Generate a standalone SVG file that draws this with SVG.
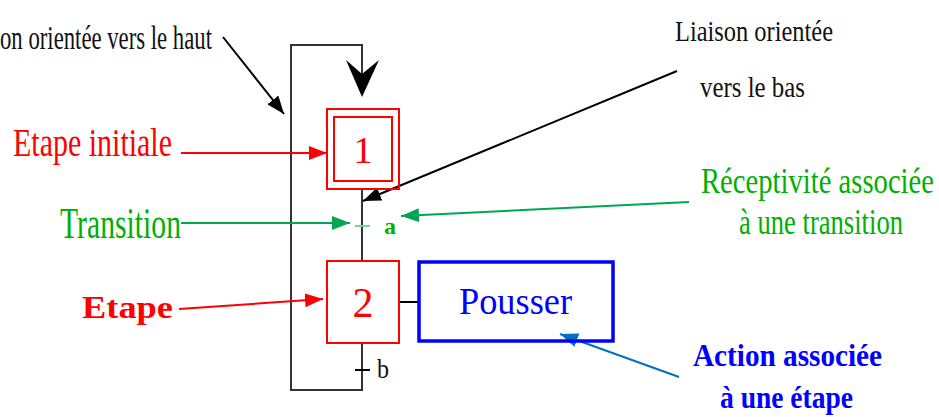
<svg xmlns="http://www.w3.org/2000/svg" width="939" height="417" viewBox="0 0 939 417" font-family="'Liberation Serif', 'DejaVu Serif', serif">
<style>
.blk{fill:#111}
.red{fill:#ff0000}
.grn{fill:#00b000}
.blu{fill:#0000ff}
.loop{fill:none;stroke:#333;stroke-width:2}
.ln{fill:none;stroke-width:2}
</style>
<defs>
<marker id="ak" markerUnits="userSpaceOnUse" markerWidth="18" markerHeight="14" refX="18" refY="7" orient="auto"><path d="M0,0 L18,7 L0,14 z" fill="#000"/></marker>
<marker id="ar" markerUnits="userSpaceOnUse" markerWidth="18" markerHeight="14" refX="18" refY="7" orient="auto"><path d="M0,0 L18,7 L0,14 z" fill="#ff0000"/></marker>
<marker id="ag" markerUnits="userSpaceOnUse" markerWidth="18" markerHeight="14" refX="18" refY="7" orient="auto"><path d="M0,0 L18,7 L0,14 z" fill="#00a651"/></marker>
<marker id="ab" markerUnits="userSpaceOnUse" markerWidth="18" markerHeight="14" refX="18" refY="7" orient="auto"><path d="M0,0 L18,7 L0,14 z" fill="#0070c0"/></marker>
</defs>

<g id="connectors">
  <path class="loop" d="M362,343 V390 H291 V45 H362 V76"/>
  <path d="M346,60 L362,74 L379,60 L362,97 Z" fill="#000"/>
  <line class="loop" x1="362" y1="189" x2="362" y2="261" stroke="#000"/>
  <line x1="355" y1="226" x2="370" y2="226" stroke="#66dd88" stroke-width="2"/>
  <line x1="355" y1="370" x2="370" y2="370" stroke="#000" stroke-width="2"/>
  <line x1="399" y1="302" x2="420" y2="302" stroke="#000" stroke-width="2"/>
  <line class="ln" stroke="#000" x1="223" y1="37" x2="284" y2="114" marker-end="url(#ak)"/>
  <line class="ln" stroke="#000" x1="677" y1="71" x2="363" y2="201" marker-end="url(#ak)"/>
  <line class="ln" stroke="#ff0000" x1="181" y1="153" x2="327" y2="153" marker-end="url(#ar)"/>
  <line class="ln" stroke="#00a651" x1="181" y1="223" x2="350" y2="223" marker-end="url(#ag)"/>
  <line class="ln" stroke="#00a651" x1="689" y1="202" x2="401" y2="216" marker-end="url(#ag)"/>
  <line class="ln" stroke="#ff0000" x1="179" y1="309" x2="323" y2="299" marker-end="url(#ar)"/>
  <line class="ln" stroke="#0070c0" x1="679" y1="377" x2="560" y2="334" marker-end="url(#ab)"/>
</g>

<g id="step1">
  <rect x="327" y="109" width="72" height="80" fill="none" stroke="#ff0000" stroke-width="2"/>
  <rect x="334" y="117" width="58" height="64" fill="none" stroke="#ff0000" stroke-width="2"/>
  <text x="363" y="163" text-anchor="middle" font-size="38" class="red">1</text>
</g>
<g id="step2">
  <rect x="327" y="261" width="72" height="82" fill="none" stroke="#ff0000" stroke-width="2"/>
  <text x="363" y="317" text-anchor="middle" font-size="42" class="red">2</text>
</g>
<g id="action">
  <rect x="419" y="262" width="194" height="79" fill="none" stroke="#0000ff" stroke-width="3.5"/>
  <text x="459" y="314" font-size="38" class="blu" textLength="113" lengthAdjust="spacingAndGlyphs">Pousser</text>
</g>
<g id="receptivities">
  <text x="384" y="234" font-size="24" font-weight="bold" class="grn">a</text>
  <text x="377" y="378" font-size="28" class="blk" textLength="12" lengthAdjust="spacingAndGlyphs">b</text>
</g>

<g id="labels">
  <text x="0" y="49" font-size="34" class="blk" textLength="212" lengthAdjust="spacingAndGlyphs">on orientée vers le haut</text>
  <text x="675" y="41" font-size="29" class="blk" textLength="158" lengthAdjust="spacingAndGlyphs">Liaison orientée</text>
  <text x="700" y="97" font-size="29" class="blk" textLength="105" lengthAdjust="spacingAndGlyphs">vers le bas</text>
  <text x="13" y="156" font-size="40" class="red" textLength="159" lengthAdjust="spacingAndGlyphs">Etape initiale</text>
  <text x="60" y="238" font-size="44" class="grn" textLength="121" lengthAdjust="spacingAndGlyphs">Transition</text>
  <text x="82" y="318" font-size="32" font-weight="bold" class="red" textLength="91" lengthAdjust="spacingAndGlyphs">Etape</text>
  <text transform="translate(701,193) scale(1,1.3)" x="0" y="0" font-size="28" class="grn" textLength="233" lengthAdjust="spacingAndGlyphs">Réceptivité associée</text>
  <text transform="translate(739,234) scale(1,1.3)" x="0" y="0" font-size="28" class="grn" textLength="164" lengthAdjust="spacingAndGlyphs">à une transition</text>
  <text x="693" y="366" font-size="32" font-weight="bold" class="blu" textLength="189" lengthAdjust="spacingAndGlyphs">Action associée</text>
  <text x="720" y="408" font-size="32" font-weight="bold" class="blu" textLength="133" lengthAdjust="spacingAndGlyphs">à une étape</text>
</g>
</svg>
